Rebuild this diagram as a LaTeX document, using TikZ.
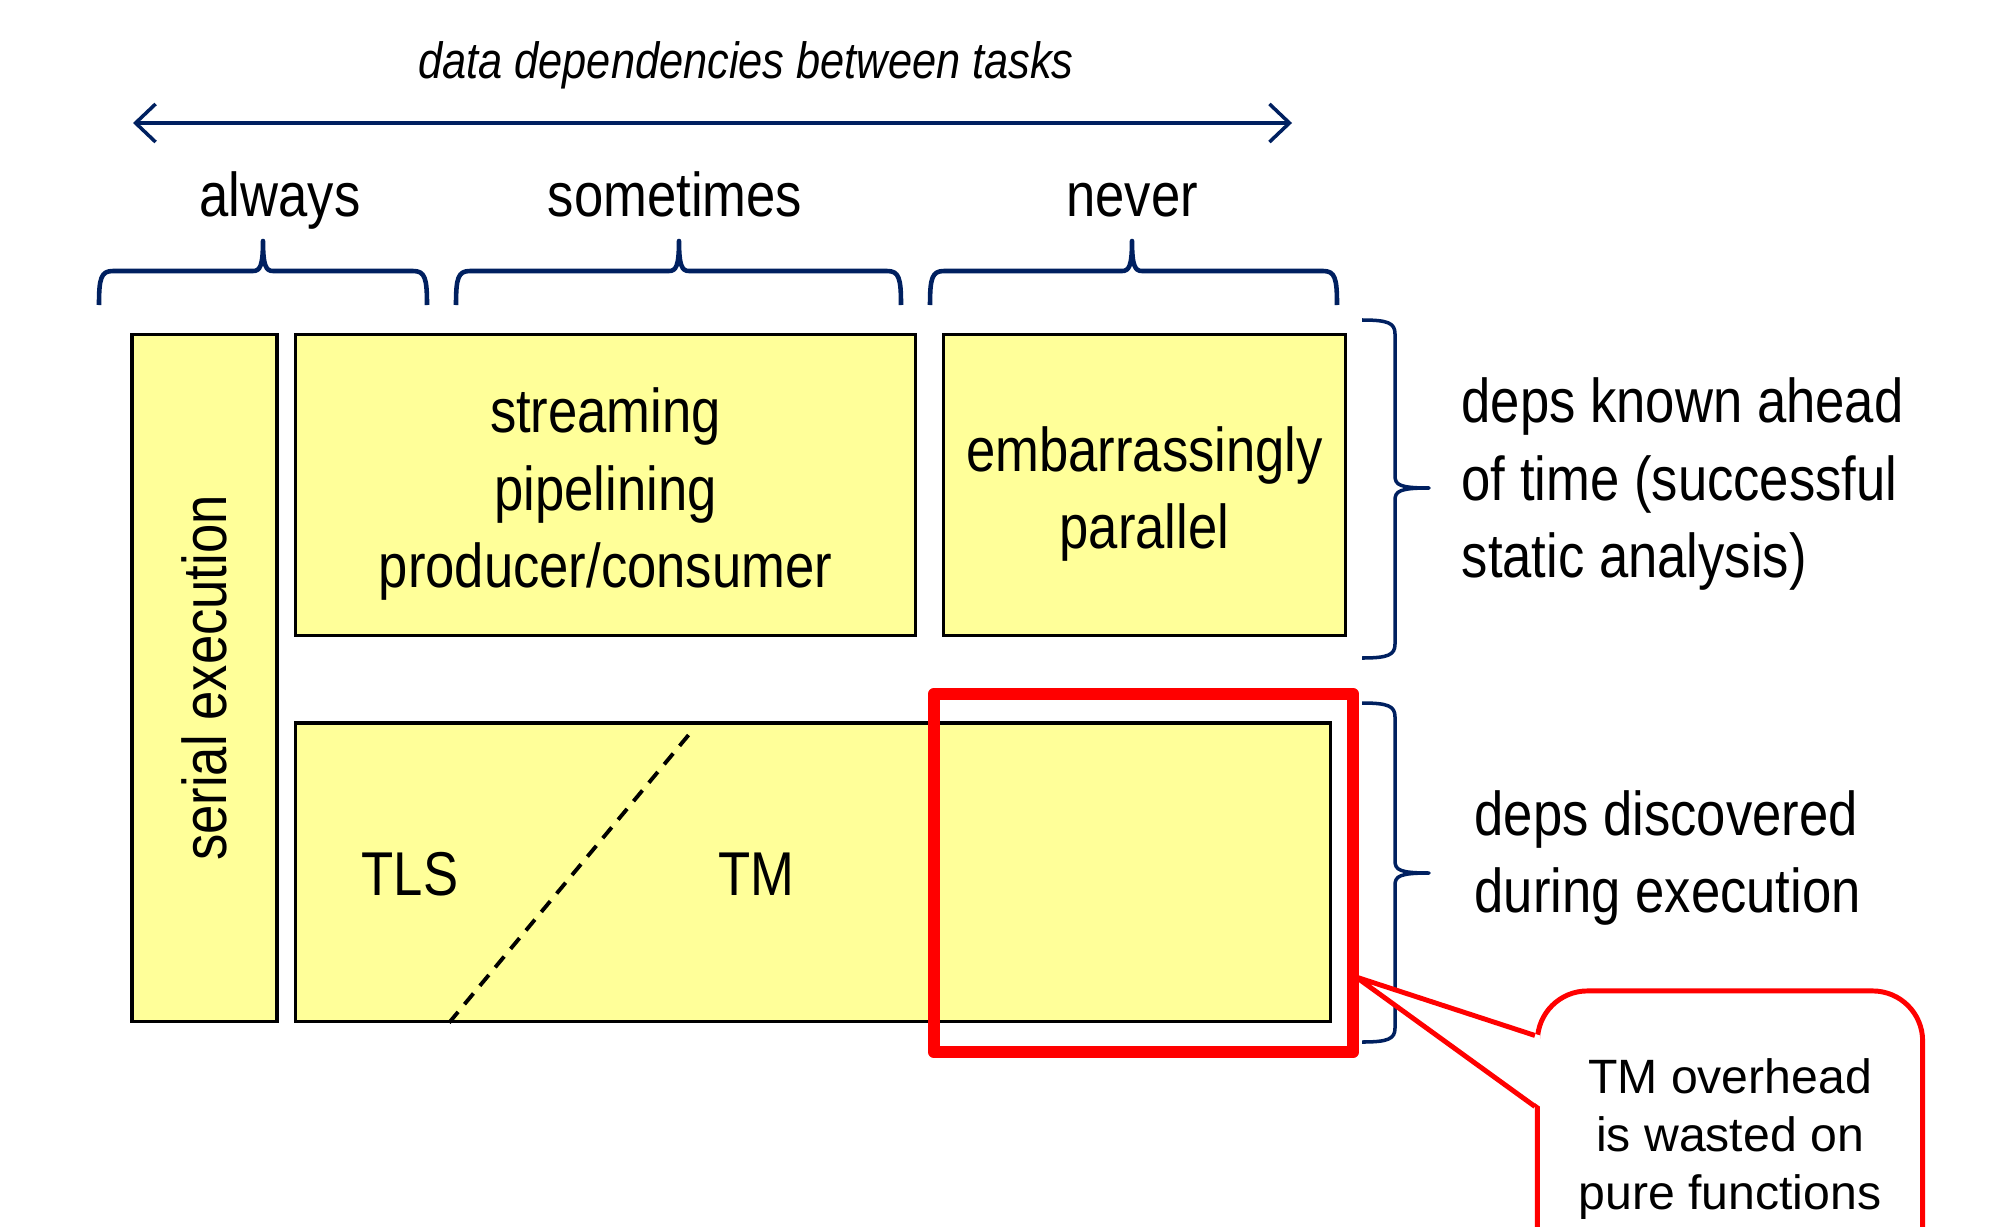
\documentclass[tikz,border=0pt]{standalone}
\usepackage{fontspec}
\setmainfont{Liberation Sans}
\newfontfamily\narrowsans[FakeStretch=0.85]{Liberation Sans}
\usetikzlibrary{arrows.meta, calc}

\definecolor{cellyellow}{RGB}{255,255,153}
\definecolor{bracenavy}{RGB}{0,32,96}

\begin{document}
\begin{tikzpicture}[x=0.01cm, y=0.01cm,
    cell/.style={draw=black, line width=0.9pt, fill=cellyellow, inner sep=0pt},
    celltext/.style={align=center, font=\narrowsans\fontsize{17.6pt}{22pt}\selectfont},
    headtext/.style={anchor=base, font=\narrowsans\fontsize{17.6pt}{22pt}\selectfont},
    sidetext/.style={anchor=west, align=left, inner sep=0pt,
      font=\narrowsans\fontsize{17.6pt}{22pt}\selectfont},
    topbrace/.style={draw=bracenavy, line width=1.3pt, line join=round},
    sidebrace/.style={draw=bracenavy, line width=1pt, line join=round},
    axisarrow/.style={draw=bracenavy, line width=1pt,
      {Straight Barb[length=2mm,width=3.8mm]}-{Straight Barb[length=2mm,width=3.8mm]}},
    hotbox/.style={draw=red, line width=0.12cm, line join=round,
      minimum width=4.19cm, minimum height=3.58cm},
    callout/.style={draw=red, line width=1.4pt, fill=white, rounded corners=0.5cm,
      minimum width=3.85cm, minimum height=2.96cm, align=center,
      font=\fontsize{13.7pt}{16.5pt}\selectfont},
    pointer/.style={draw=red, line width=1.4pt, line join=round} ]
    \clip (0,0) rectangle (1992,1226);

    % Axis over the columns
    \node[anchor=base, font=\narrowsans\itshape\fontsize{14.5pt}{17pt}\selectfont]
    (title) at (746,1147) {data dependencies between tasks};
    \coordinate (axisL) at (133,1103); \coordinate (axisR) at (1292,1103);
    \draw[axisarrow] (axisL) -- (axisR);

    % Column heads
    \node[headtext] (always) at (280,1010) {always};
    \node[headtext] (sometimes) at (675,1010) {sometimes};
    \node[headtext] (never) at (1132,1010) {never};

    % Braces under the heads
    \foreach \a/\m/\b in {99/263/427, 456/679/901, 930/1132/1337} {
      \draw[topbrace] (\a,921) .. controls (\a,948) and (\a+2,955) .. (\a+14,955)
      -- (\m-10,955) .. controls (\m-3,955) and (\m,960) .. (\m,985)
      .. controls (\m,960) and (\m+3,955) .. (\m+10,955)
      -- (\b-14,955) .. controls (\b-2,955) and (\b,948) .. (\b,921);
    }

    % Cells
    \node[cell, minimum width=1.45cm, minimum height=6.86cm] (serial) at (204.5,548) {};
    \node[celltext, rotate=90] (serialtext) at (serial.center) {serial execution};
    \node[cell, minimum width=6.19cm, minimum height=3cm] (stream) at (605.5,741) {};
    \node[celltext] (streamtext) at ($(stream.center)+(0,-9)$)
    {streaming\\pipelining\\producer/consumer};
    \node[cell, minimum width=4.01cm, minimum height=3cm] (embar) at (1144.5,741) {};
    \node[celltext] (embartext) at ($(embar.center)+(0,-9)$)
    {embarrassingly\\parallel};
    \node[cell, minimum width=10.34cm, minimum height=2.98cm] (spec) at (813,354) {};
    \draw[line width=1.1pt, dash pattern=on 0.14cm off 0.1cm]
    ($(spec.south west)+(155,0)$) -- ($(spec.north west)+(400,-7)$);
    \node[celltext] (tls) at (410,352) {TLS};
    \node[celltext] (tm) at (756,352) {TM};

    % Highlight on the pure part
    \node[hotbox] (hot) at (1143.5,353) {};

    % Side braces and their labels
    \foreach \t/\m/\b in {906/738/568, 523/353/184} {
      \draw[sidebrace] (1362,\t) .. controls (1388,\t) and (1395,\t-3) .. (1395,\t-14)
      -- (1395,\m+12) .. controls (1395,\m+3) and (1400,\m) .. (1429,\m)
      .. controls (1400,\m) and (1395,\m-3) .. (1395,\m-12)
      -- (1395,\b+14) .. controls (1395,\b+3) and (1388,\b) .. (1362,\b);
    }
    \node[sidetext] (known) at (1461,742)
    {deps known ahead\\of time (successful\\static analysis)};
    \node[sidetext] (found) at (1474,368) {deps discovered\\during execution};

    % Callout
    \node[callout] (note) at (1730,87) {TM overhead\\is wasted on\\pure functions};
    \coordinate (tip) at (1356,249);
    \coordinate (noteA) at ($(note.north west)+(0,-47)$);
    \coordinate (noteB) at ($(note.north west)+(0,-118)$);
    \fill[white] (tip) -- ($(noteA)+(5,0)$) -- ($(noteB)+(5,0)$) -- cycle;
    \draw[pointer] (noteA) -- (tip) -- (noteB);
\end{tikzpicture}
\end{document}
